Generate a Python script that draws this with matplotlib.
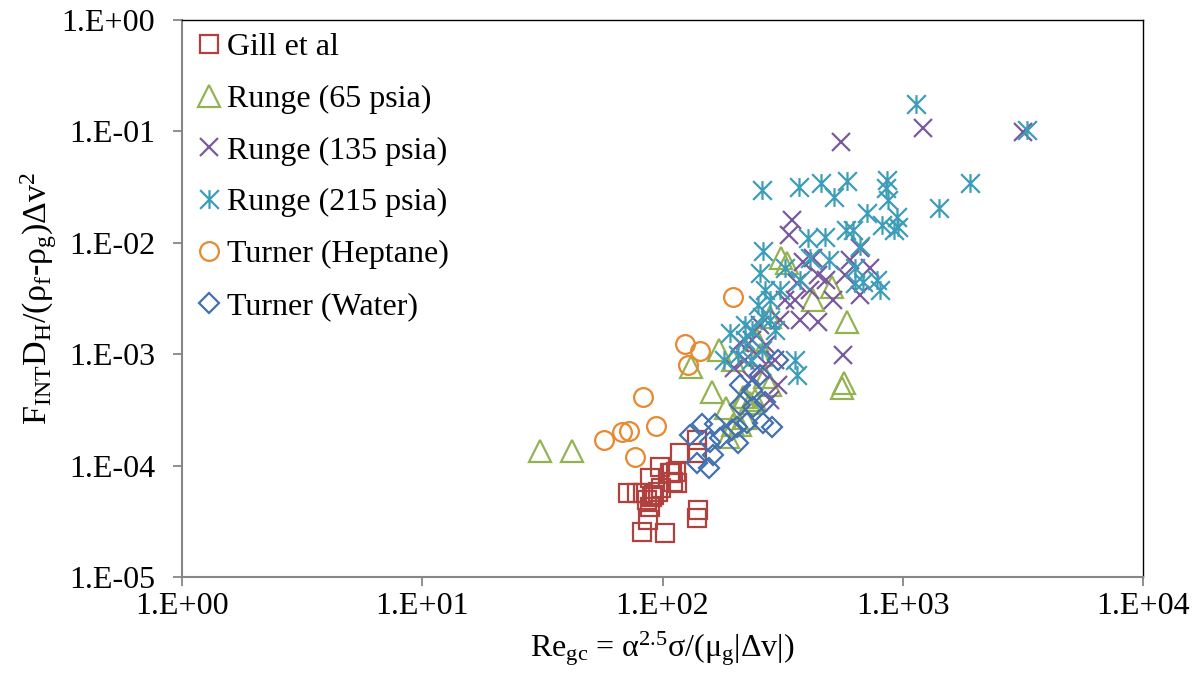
import numpy as np
import matplotlib
matplotlib.use("Agg")
import matplotlib.pyplot as plt
import matplotlib.ticker as mticker
from matplotlib.path import Path

plt.rcParams['font.family'] = ['Liberation Serif', 'DejaVu Serif']
plt.rcParams['mathtext.fontset'] = 'custom'
plt.rcParams['mathtext.rm'] = 'Liberation Serif'
plt.rcParams['mathtext.it'] = 'Liberation Serif'
plt.rcParams['mathtext.bf'] = 'Liberation Serif:bold'

# Gill et al
gill_re = [139, 118, 139, 97.7, 110, 114, 107, 88.7, 111, 115, 71.8, 78.3, 83.0, 90.4,
           95.7, 98.6, 92.2, 86.2, 88.7, 87.1, 82.2, 102, 140, 139]
gill_f = [1.70e-4, 1.30e-4, 1.30e-4, 9.71e-5, 8.59e-5, 8.77e-5, 8.59e-5, 7.74e-5, 7.13e-5,
          6.98e-5, 5.68e-5, 5.68e-5, 5.68e-5, 5.22e-5, 5.80e-5, 6.30e-5, 5.45e-5, 4.91e-5,
          4.25e-5, 3.25e-5, 2.54e-5, 2.48e-5, 3.99e-5, 3.39e-5]

# Runge (65 psia)
r65_re = [31, 42, 131, 161, 172, 184, 220, 210, 231, 196, 267, 280, 247, 280, 330, 311,
          423, 508, 586, 569, 559, 187, 243, 216, 220, 196, 255]
r65_f = [1.35e-4, 1.35e-4, 7.67e-4, 4.58e-4, 1.09e-3, 3.29e-4, 4.13e-4, 2.31e-4, 3.65e-4,
         2.31e-4, 6.24e-4, 5.30e-4, 1.34e-3, 2.16e-3, 6.59e-3, 7.31e-3, 3.07e-3, 4.01e-3,
         1.95e-3, 5.51e-4, 4.97e-4, 1.81e-4, 3.88e-4, 4.13e-4, 2.67e-4, 8.87e-4, 9.84e-4]

# Runge (135 psia)
r135_re = [553, 1213, 3162, 346, 337, 385, 444, 513, 564, 664, 664, 603, 731, 575, 480,
           411, 356, 308, 255, 236, 270, 294, 255, 236, 303, 280, 199, 210, 423, 363, 324,
           373, 444, 220, 247]
r135_f = [0.0804, 0.107, 0.0988, 0.0160, 0.0117, 6.73e-3, 5.14e-3, 3.07e-3, 9.84e-4,
          3.40e-3, 8.98e-3, 7.01e-3, 5.94e-3, 5.14e-3, 4.63e-3, 3.77e-3, 3.07e-3, 2.03e-3,
          1.83e-3, 1.34e-3, 1.21e-3, 8.87e-4, 7.22e-4, 5.86e-4, 5.30e-4, 3.88e-4, 7.52e-4,
          1.26e-3, 7.31e-3, 4.36e-3, 3.07e-3, 2.03e-3, 1.95e-3, 8.87e-4, 9.84e-4]

# Runge (215 psia)
r215_re = [1135, 3289, 1905, 1416, 259, 370, 457, 518, 586, 859, 851, 869, 946, 820, 920,
           664, 581, 474, 404, 493, 632, 632, 684, 804, 782, 262, 255, 324, 373, 280, 259,
           250, 191, 206, 180, 236, 220, 294, 356, 363, 259, 233, 308, 267, 280, 220, 411,
           710, 955, 621]
r215_f = [0.176, 0.103, 0.0344, 0.0205, 0.0298, 0.0317, 0.0344, 0.0258, 0.0359, 0.0366,
          0.0310, 0.0242, 0.0171, 0.0145, 0.0130, 9.36e-3, 0.0130, 0.0113, 0.0110, 7.01e-3,
          5.94e-3, 4.36e-3, 4.45e-3, 3.77e-3, 4.63e-3, 8.44e-3, 5.36e-3, 5.94e-3, 4.63e-3,
          3.07e-3, 2.16e-3, 2.77e-3, 1.55e-3, 9.84e-4, 8.87e-4, 1.65e-3, 1.34e-3, 1.65e-3,
          8.87e-4, 6.50e-4, 1.09e-3, 8.87e-4, 3.77e-3, 3.77e-3, 2.03e-3, 1.83e-3, 7.31e-3,
          0.0185, 0.0139, 0.0130]

# Turner (Heptane)
hep_re = [196, 124, 143, 128, 83.0, 57.1, 67.8, 72.6, 94.0, 76.9]
hep_f = [3.26e-3, 1.24e-3, 1.07e-3, 8.0e-4, 4.13e-4, 1.70e-4, 2.0e-4, 2.05e-4, 2.27e-4, 1.19e-4]

# Turner (Water)
wat_re = [130, 146, 166, 158, 139, 156, 206, 225, 204, 262, 286, 210, 238, 267, 173, 195,
          162, 210, 236, 255, 303]
wat_f = [1.88e-4, 2.36e-4, 2.36e-4, 1.63e-4, 1.05e-4, 9.51e-5, 1.60e-4, 2.41e-4, 2.22e-4,
         2.41e-4, 2.22e-4, 3.50e-4, 3.36e-4, 3.72e-4, 1.77e-4, 2.09e-4, 1.25e-4, 5.30e-4,
         4.77e-4, 6.50e-4, 8.87e-4]

# asterisk marker like excel: X plus vertical bar
ast = Path([(0, -0.5), (0, 0.5), (-0.5, -0.5), (0.5, 0.5), (-0.5, 0.5), (0.5, -0.5)],
           [Path.MOVETO, Path.LINETO, Path.MOVETO, Path.LINETO, Path.MOVETO, Path.LINETO])

fig = plt.figure(figsize=(11.99, 6.83), dpi=100)
ax = fig.add_axes([0.1518, 0.1552, 0.8015, 0.8155])

series = [
    (gill_re, gill_f, 's', '#B0413E', 13, 'Gill et al'),
    (r65_re, r65_f, '^', '#93B251', 16, 'Runge (65 psia)'),
    (r135_re, r135_f, 'x', '#7A5A9E', 13.5, 'Runge (135 psia)'),
    (r215_re, r215_f, ast, '#3D9DB8', 13.5, 'Runge (215 psia)'),
    (hep_re, hep_f, 'o', '#E8882F', 13.5, 'Turner (Heptane)'),
    (wat_re, wat_f, 'D', '#4271B0', 10, 'Turner (Water)'),
]
for xs, ys, m, c, ms, lab in series:
    ax.plot(xs, ys, linestyle='none', marker=m, markersize=ms, markerfacecolor='none',
            markeredgecolor=c, markeredgewidth=1.6, label=lab)

ax.set_xscale('log')
ax.set_yscale('log')
ax.set_xlim(1, 1e4)
ax.set_ylim(1e-5, 1)

fmt = mticker.FuncFormatter(lambda v, p: "1.E%+03d" % int(round(np.log10(v))))
ax.xaxis.set_major_locator(mticker.LogLocator(base=10, numticks=10))
ax.yaxis.set_major_locator(mticker.LogLocator(base=10, numticks=10))
ax.xaxis.set_minor_locator(mticker.NullLocator())
ax.yaxis.set_minor_locator(mticker.NullLocator())
ax.xaxis.set_major_formatter(fmt)
ax.yaxis.set_major_formatter(fmt)
ax.tick_params(axis='both', direction='out', length=6.5, width=1.3, color='#868686',
               labelsize=23)
ax.tick_params(axis='y', pad=13)
ax.tick_params(axis='x', pad=4)

for s in ['left', 'bottom']:
    ax.spines[s].set_color('#868686')
    ax.spines[s].set_linewidth(1.5)
for s in ['top', 'right']:
    ax.spines[s].set_color('black')
    ax.spines[s].set_linewidth(1.0)

ax.set_xlabel(r'Re$_{\mathrm{gc}}$ = α$^{\mathrm{2.5}}$σ/(μ$_{\mathrm{g}}$|Δv|)', fontsize=23, labelpad=6)
ax.set_ylabel(r'F$_{\mathrm{INT}}$D$_{\mathrm{H}}$/(ρ$_{\mathrm{f}}$-ρ$_{\mathrm{g}}$)Δv$^{\mathrm{2}}$',
              fontsize=24.5, labelpad=2)

leg = ax.legend(loc='upper left', frameon=False, fontsize=23, handletextpad=0.1,
                handlelength=0.9, borderaxespad=0.15, labelspacing=0.7,
                borderpad=0.25)

plt.savefig('out.png', dpi=100)
plt.close()
